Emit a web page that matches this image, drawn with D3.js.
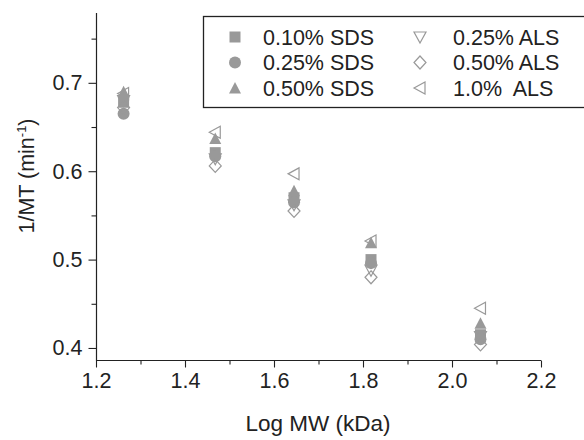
<!DOCTYPE html>
<html>
<head>
<meta charset="utf-8">
<script src="https://cdn.jsdelivr.net/npm/d3@7"></script>
<style>
body { margin: 0; background: #fff; }
svg { font-family: "Liberation Sans", Arial, sans-serif; }
</style>
</head>
<body>
<div id="chart"></div>
<script>
const WIDTH = 584
const HEIGHT = 440

// data
const logMW = [1.262, 1.468, 1.645, 1.818, 2.064];
const sds010 = [0.678, 0.621, 0.570, 0.500, 0.415];
const sds025 = [0.665, 0.617, 0.565, 0.496, 0.410];
const sds050 = [0.690, 0.637, 0.578, 0.519, 0.428];
const als025 = [0.680, 0.614, 0.562, 0.488, 0.413];
const als050 = [0.672, 0.606, 0.555, 0.480, 0.404];
const als100 = [0.688, 0.644, 0.597, 0.521, 0.445];

const seriesNames = ['0.10% SDS', '0.25% SDS', '0.50% SDS', '0.25% ALS', '0.50% ALS', '1.0%  ALS'];
const seriesValues = [sds010, sds025, sds050, als025, als050, als100];
const seriesShapes = ['square', 'circle', 'triangle', 'down', 'diamond', 'left'];
const seriesFilled = [true, true, true, false, false, false];

const xTicks = [1.2, 1.4, 1.6, 1.8, 2.0, 2.2];
const xMinor = [1.3, 1.5, 1.7, 1.9, 2.1];
const yTicks = [0.4, 0.5, 0.6, 0.7];
const yMinor = [0.45, 0.55, 0.65, 0.75];

const GREY = '#999';
const INK = '#222';

var svg = d3.select("#chart").append("svg")
    .attr("width", WIDTH)
    .attr("height", HEIGHT);

var xScale = d3.scaleLinear().domain([1.2, 2.2]).range([96, 541]);
var yScale = d3.scaleLinear().domain([0.3864, 0.779]).range([360, 13]);

// marker paths centred on 0,0
const shapePath = (shape, s) => {
    const h = s / 2;
    if (shape === 'square') return `M${-h},${-h}H${h}V${h}H${-h}Z`;
    if (shape === 'circle') return d3.arc()({innerRadius: 0, outerRadius: h + 0.5, startAngle: 0, endAngle: 2 * Math.PI});
    if (shape === 'triangle') return `M0,${-h - 0.5}L${h + 0.5},${h}L${-h - 0.5},${h}Z`;
    if (shape === 'down') return `M${-h},${-h + 1}L${h},${-h + 1}L0,${h}Z`;
    if (shape === 'diamond') return `M0,${-h - 0.5}L${h},0L0,${h + 0.5}L${-h},0Z`;
    if (shape === 'left') return `M${-h},0L${h - 1},${-h}L${h - 1},${h}Z`;
};

const drawMarker = (g, i, x, y) => {
    const size = seriesFilled[i] ? 11 : 12;
    g.append("path")
        .attr("d", shapePath(seriesShapes[i], size))
        .attr("transform", `translate(${x},${y})`)
        .attr("fill", seriesFilled[i] ? GREY : "#fff")
        .attr("fill-opacity", seriesFilled[i] ? 1 : 0)
        .attr("stroke", GREY)
        .attr("stroke-width", seriesFilled[i] ? 0 : 1.2);
};

// axes
var xAxis = d3.axisBottom(xScale).tickValues(xTicks).tickSize(7).tickPadding(5)
    .tickFormat(d3.format(".1f"));
var yAxis = d3.axisLeft(yScale).tickValues(yTicks).tickSize(8).tickPadding(6)
    .tickFormat(d3.format(".1f"));

var gx = svg.append("g").attr("transform", "translate(0,360.5)").call(xAxis);
gx.append("g").call(d3.axisBottom(xScale).tickValues(xMinor).tickSize(4).tickFormat(""));
var gy = svg.append("g").attr("transform", "translate(96.5,0)").call(yAxis);
gy.append("g").call(d3.axisLeft(yScale).tickValues(yMinor).tickSize(5).tickFormat(""));

[gx, gy].forEach(g => {
    g.selectAll("path.domain").remove();
    g.selectAll("line").attr("stroke", INK).attr("stroke-width", 1.1);
    g.selectAll("text").attr("fill", INK).attr("font-size", "21.5px")
        .attr("font-family", "Liberation Sans, Arial, sans-serif");
});

svg.append("line").attr("x1", 96.5).attr("x2", 96.5).attr("y1", 13).attr("y2", 361)
    .attr("stroke", INK).attr("stroke-width", 1.2);
svg.append("line").attr("x1", 96).attr("x2", 541).attr("y1", 360.5).attr("y2", 360.5)
    .attr("stroke", INK).attr("stroke-width", 1.2);

// axis titles
svg.append("text")
    .attr("x", 318).attr("y", 431)
    .attr("text-anchor", "middle")
    .attr("font-size", "22.5px")
    .attr("fill", INK)
    .text("Log MW (kDa)");

var yTitle = svg.append("text")
    .attr("transform", "translate(34,176) rotate(-90)")
    .attr("text-anchor", "middle")
    .attr("font-size", "21.5px")
    .attr("fill", INK);
yTitle.append("tspan").text("1/MT (min");
yTitle.append("tspan").attr("font-size", "13px").attr("dy", "-8").text("-1");
yTitle.append("tspan").attr("dy", "8").text(")");

// points
var pts = svg.append("g");
[5, 2, 3, 0, 1, 4].forEach(i => {
    seriesValues[i].forEach((v, j) => {
        drawMarker(pts, i, xScale(logMW[j]), yScale(v));
    });
});

// legend
svg.append("rect")
    .attr("x", 203.5).attr("y", 16.5)
    .attr("width", 400).attr("height", 91)
    .attr("fill", "#fff")
    .attr("stroke", INK)
    .attr("stroke-width", 1.3);

var legend = svg.append("g");
seriesNames.forEach((name, i) => {
    const col = Math.floor(i / 3);
    const row = i % 3;
    const y = 37 + row * 25.5;
    const sx = col === 0 ? 235 : 420;
    const tx = col === 0 ? 263 : 453;
    drawMarker(legend, i, sx, y);
    legend.append("text")
        .attr("x", tx).attr("y", y)
        .attr("dy", "0.36em")
        .attr("font-size", "21.5px")
        .attr("fill", INK)
        .style("white-space", "pre")
        .text(name);
});
</script>
</body>
</html>
